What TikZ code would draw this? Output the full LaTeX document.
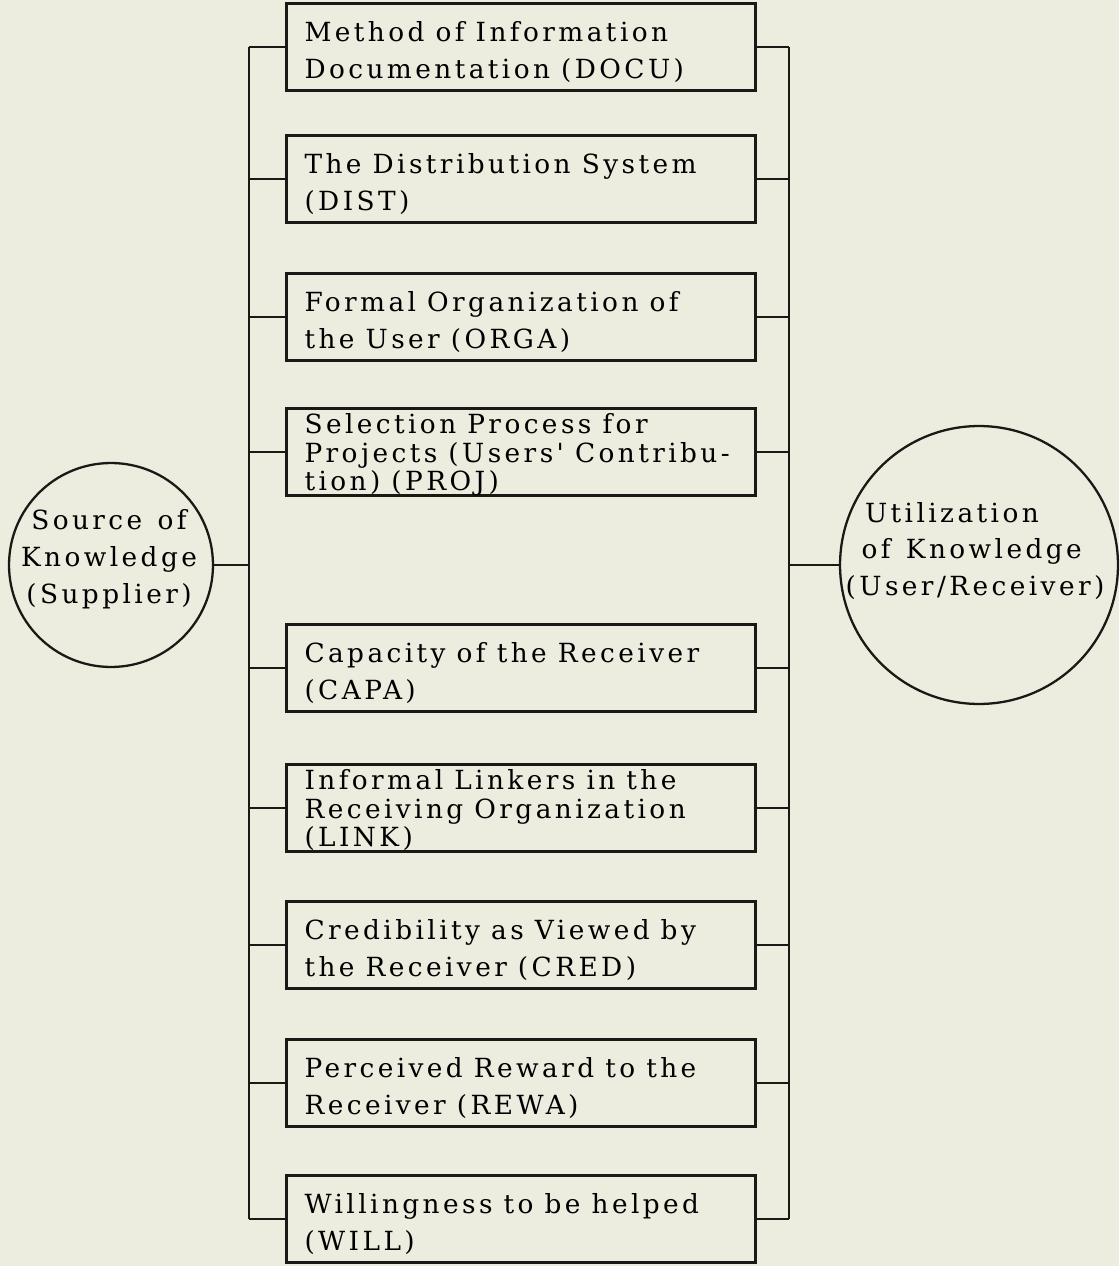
\documentclass[tikz,border=0pt]{standalone}
\usepackage{fontspec}
\newfontfamily\typefont[LetterSpace=13,WordSpace=1.3]{DejaVu Serif}
\usepackage{xcolor}
\usepackage{tikz}
\definecolor{paper}{RGB}{236,236,223}
\definecolor{ink}{RGB}{28,24,22}
\newcommand*{\widespace}{\spaceskip 0.42em\relax}

\begin{document}
\begin{tikzpicture}[x=0.02cm,y=-0.02cm,
  factor/.style={draw=ink,line width=1.6pt,minimum height=1.74cm,text width=8.66cm,inner xsep=0.36cm,inner ysep=0pt,
    text height=11pt,text depth=17pt,align=left,font=\typefont\fontsize{15}{21}\selectfont,
    execute at begin node={\widespace}},
  tight/.style={text depth=31.5pt,font=\typefont\fontsize{15}{16}\selectfont},
  pole/.style={draw=ink,circle,line width=1.3pt,inner sep=0pt},
  poletext/.style={font=\typefont\fontsize{15}{21}\selectfont},
  bus/.style={draw=ink,line width=1.3pt}]
\fill[paper](0,0)rectangle(1119,1266);
\useasboundingbox(0,0)rectangle(1119,1266);
%\draw[help lines](0,0)grid[step=100](1100,1200);
\node[pole,minimum size=4.08cm](src)at(111,565){};
\node[poletext,align=center](srctext)at(109,559){Source of\\Knowledge\\(Supplier)};
\node[pole,minimum size=5.56cm](use)at(979,565){};
\node[poletext,align=left](usetext)at(975,551){\hspace*{11pt}Utilization\\\hspace*{9pt}of Knowledge\\(User/Receiver)};

\node[factor](docu)at(521,47){Method of Information\\Documentation (DOCU)};
\node[factor](dist)at(521,179){The Distribution System\\(DIST)};
\node[factor](orga)at(521,317){Formal Organization of\\the User (ORGA)};
\node[factor,tight](proj)at(521,452){Selection Process for\\Projects (Users' Contribu-\\tion) (PROJ)};
\node[factor](capa)at(521,668){Capacity of the Receiver\\(CAPA)};
\node[factor,tight](link)at(521,808){Informal Linkers in the\\Receiving Organization\\(LINK)};
\node[factor](cred)at(521,945){Credibility as Viewed by\\the Receiver (CRED)};
\node[factor](rewa)at(521,1083){Perceived Reward to the\\Receiver (REWA)};
\node[factor](will)at(521,1219){Willingness to be helped\\(WILL)};

\coordinate(lbus)at(249,0);
\coordinate(rbus)at(789,0);
\draw[bus](lbus|-docu.west)--(lbus|-will.west);
\draw[bus](rbus|-docu.east)--(rbus|-will.east);
\draw[bus](src.east)--(lbus|-src.east);
\draw[bus](use.west)--(rbus|-use.west);
\foreach\f in{docu,dist,orga,proj,capa,link,cred,rewa,will}{
  \draw[bus](\f.west)--(lbus|-\f.west);
  \draw[bus](\f.east)--(rbus|-\f.east);}
\end{tikzpicture}
\end{document}
